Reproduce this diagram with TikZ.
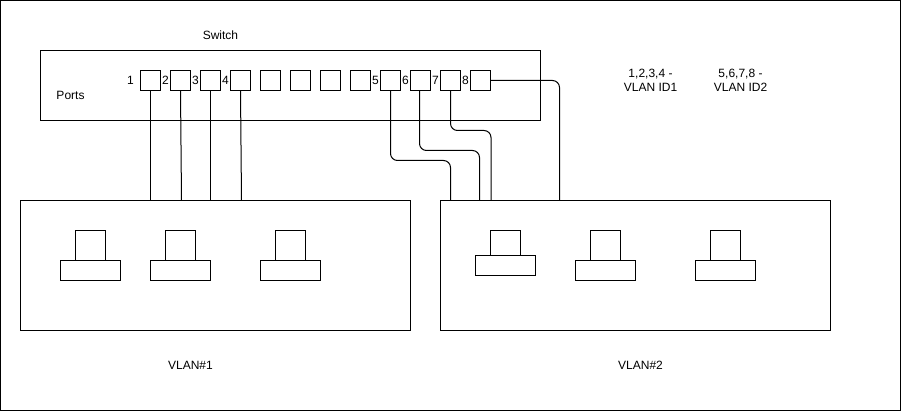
\documentclass[tikz,border=0pt]{standalone}
\usepackage{fontspec}
\setmainfont{Liberation Sans}
\tikzset{
  box/.style={draw,line width=1pt,inner sep=0pt,outer sep=0pt},
  portbox/.style={box,minimum width=20pt,minimum height=20pt},
  monitor/.style={box,minimum width=30pt,minimum height=30pt},
  stand/.style={box,minimum width=60pt,minimum height=20pt},
  lanbox/.style={box,minimum width=390pt,minimum height=130pt},
  txt/.style={inner sep=0pt,align=center,font=\fontsize{12}{14}\selectfont},
  wire/.style={line width=1pt,rounded corners=7pt}
}
\begin{document}
\begin{tikzpicture}[x=1pt,y=-1pt]
   \useasboundingbox (0,0) rectangle (901,411);
   \node[box,minimum width=900pt,minimum height=410pt] (frame) at (450.5,205.5) {};
   \node[box,minimum width=500pt,minimum height=70pt] (switch) at (290.5,85.5) {};
   \node[lanbox] (lanA) at (215.5,265.5) {};
   \node[lanbox] (lanB) at (635.5,265.5) {};
   % ports
   \foreach \i in {1,...,12}
     \node[portbox] (p\i) at (120.5+\i*30,80.5) {};
   \foreach \n/\x in {1/130.5,2/165.5,3/195.5,4/225.5,5/375.5,6/405.5,7/435.5,8/465.5}
     \node[txt] (num\n) at (\x,80) {\n};
   % pcs
   \foreach \n/\x/\yt/\yb in {a/90.5/245.5/270.5,b/180.5/245.5/270.5,c/290.5/245.5/270.5,d/505.5/243/265.5,e/605.5/245.5/270.5,f/725.5/245.5/270.5}{
     \node[stand] (base\n) at (\x,\yb) {};
     \node[monitor,minimum height={2*(\yb-10-\yt)}] (top\n) at (\x,\yt) {};
   }
   % wire ends
   \coordinate (a1) at (150.5,200.5);
   \coordinate (a2) at (181.5,200.5);
   \coordinate (a3) at (210.5,200.5);
   \coordinate (a4) at (241.5,200.5);
   \coordinate (b1) at (450.5,200.5);
   \coordinate (b2) at (479.5,200.5);
   \coordinate (b3) at (491,200.5);
   \coordinate (b4) at (559.5,200.5);
   \coordinate (s10) at (419.5,90.5);
   \draw[wire] (p1.south) -- (a1);
   \draw[wire] (p2.south) -- (a2);
   \draw[wire] (p3.south) -- (a3);
   \draw[wire] (p4.south) -- (a4);
   \draw[wire] (p9.south) -- (390.5,160.5) -- (450.5,160.5) -- (b1);
   \draw[wire] (s10) -- (419.5,150.5) -- (479.5,150.5) -- (b2);
   \draw[wire] (p11.south) -- (450.5,130.5) -- (491,130.5) -- (b3);
   \draw[wire] (p12.east) -- (559.5,80.5) -- (b4);
   % labels
   \node[txt] (title) at (220.5,35) {Switch};
   \node[txt] (ports) at (70.5,95) {Ports};
   \node[txt] (idA) at (650.5,80) {1,2,3,4 -\\VLAN ID1};
   \node[txt] (idB) at (740.5,80) {5,6,7,8 -\\VLAN ID2};
   \node[txt] (nameA) at (190.5,365) {VLAN\#1};
   \node[txt] (nameB) at (640.5,365) {VLAN\#2};
\end{tikzpicture}
\end{document}
